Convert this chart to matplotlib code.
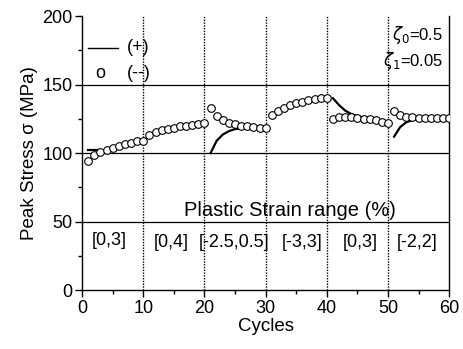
import numpy as np
import matplotlib.pyplot as plt
from matplotlib.ticker import MultipleLocator

plt.rcParams['font.family'] = ['Liberation Sans', 'DejaVu Sans']

# circles (--) : one value per cycle 1..60
cycles = np.arange(1, 61)
stress_minus = [94.5, 98.5, 101, 102.5, 104, 105.5, 106.5, 107.5, 108.5, 109,
                113, 115, 116.5, 117.5, 118.5, 119.5, 120, 120.5, 121, 122,
                133, 127, 124, 122, 121, 120, 119.5, 119, 118.5, 118,
                128, 131, 133, 135, 136.5, 137.5, 138.5, 139.5, 140, 140.5,
                125, 126, 126.5, 126, 125.5, 125, 124.5, 124, 123, 122,
                131, 128, 126.5, 126, 125.5, 125.5, 125.5, 125.5, 125.5, 125.5]

# lines (+) : only the visible pieces
plus_x = [[1, 2, 2.6], [21, 22, 23, 24, 25, 26, 27, 28, 29],
          [41, 42, 43, 44, 45, 46], [51, 52, 53, 54, 55]]
plus_y = [[102.5, 102.5, 102.5], [100, 109, 113.5, 116, 117.5, 118, 118.5, 118.5, 118.5],
          [140, 135, 131, 128.5, 127, 126], [112, 119, 122.5, 124, 125]]

ranges = ['[0,3]', '[0,4]', '[-2.5,0.5]', '[-3,3]', '[0,3]', '[-2,2]']
range_x = [4.4, 14.5, 24.8, 35.9, 45.4, 54.7]
range_y = [36, 34.5, 35, 35, 34.5, 34.5]

fig = plt.figure(figsize=(4.64, 3.49), dpi=100)
ax = fig.add_axes([0.177, 0.169, 0.791, 0.785])

for v in [10, 20, 30, 40, 50]:
    ax.axvline(v, color='black', ls=(0, (1, 1)), lw=1.0, zorder=1)
for h in [50, 100, 150]:
    ax.axhline(h, color='black', lw=0.9, zorder=1)

for xs, ys in zip(plus_x, plus_y):
    ax.plot(xs, ys, color='black', lw=1.6, zorder=2)
ax.plot(cycles, stress_minus, 'o', mfc='white', mec='black', ms=5.5, mew=0.8, zorder=3)

ax.set_xlim(0, 60)
ax.set_ylim(0, 200)
ax.xaxis.set_major_locator(MultipleLocator(10))
ax.xaxis.set_minor_locator(MultipleLocator(5))
ax.yaxis.set_major_locator(MultipleLocator(50))
ax.yaxis.set_minor_locator(MultipleLocator(25))
ax.tick_params(which='major', direction='out', length=5, width=1, labelsize=13, pad=2)
ax.tick_params(which='minor', direction='out', length=3, width=1)
ax.spines['top'].set_visible(False)
for s in ['left', 'bottom', 'right']:
    ax.spines[s].set_linewidth(1.0)

ax.set_xlabel('Cycles', fontsize=13.5, labelpad=1)
ax.set_ylabel('Peak Stress σ (MPa)', fontsize=13.5, labelpad=3)

# legend drawn as text
ax.plot([0.9, 5.9], [177, 177], color='black', lw=1)
ax.text(7.3, 177, '(+)', fontsize=13, va='center')
ax.text(2.9, 158, 'o', fontsize=13, va='center', ha='center')
ax.text(7.3, 158, '(--)', fontsize=13, va='center')

ax.text(59, 186, r'$\zeta_0$=0.5', fontsize=12, ha='right', va='center')
ax.text(59, 167, r'$\zeta_1$=0.05', fontsize=12, ha='right', va='center')

ax.text(34, 58, 'Plastic Strain range (%)', fontsize=14.5, ha='center', va='center')
for lab, x, y in zip(ranges, range_x, range_y):
    ax.text(x, y, lab, fontsize=13, ha='center', va='center')

fig.savefig('out.png', dpi=100)
